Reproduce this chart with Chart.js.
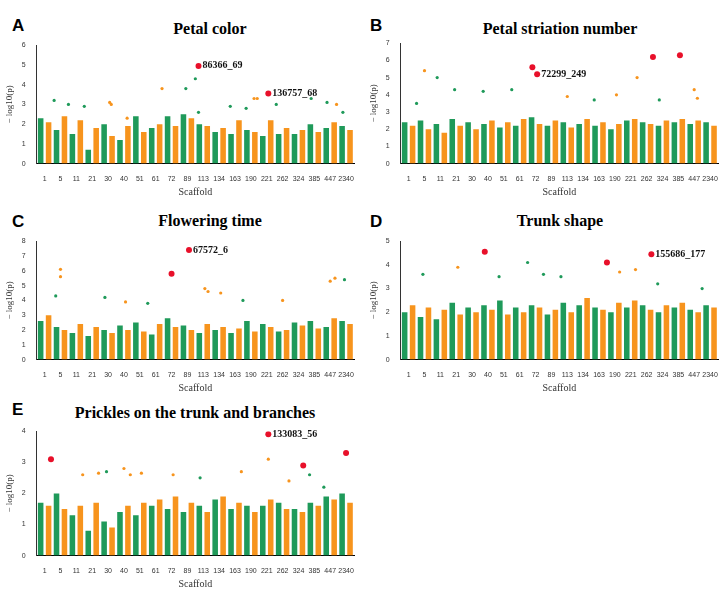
<!DOCTYPE html>
<html>
<head>
<meta charset="utf-8">
<script src="https://cdn.jsdelivr.net/npm/chart.js@4"></script>
<style>
  body { margin: 0; background: #fff; width: 724px; height: 592px; position: relative; overflow: hidden; }
  .panel { position: absolute; width: 362px; }
  .letter { position: absolute; font: bold 17px "Liberation Sans", Arial, sans-serif; }
  .title { position: absolute; font: bold 16px "Liberation Serif", "Times New Roman", serif; text-align: center; }
</style>
</head>
<body>
<div class="letter" style="left:12px;top:16px">A</div>
<div class="letter" style="left:370px;top:16px">B</div>
<div class="letter" style="left:12px;top:212px">C</div>
<div class="letter" style="left:370px;top:212px">D</div>
<div class="letter" style="left:12px;top:400px">E</div>
<div class="title" style="left:60px;top:20px;width:300px">Petal color</div>
<div class="title" style="left:400px;top:20px;width:320px">Petal striation number</div>
<div class="title" style="left:60px;top:212px;width:300px">Flowering time</div>
<div class="title" style="left:400px;top:212px;width:320px">Trunk shape</div>
<div class="title" style="left:20px;top:404px;width:350px">Prickles on the trunk and branches</div>
<div class="panel" style="left:0;top:38px;height:160px"><canvas id="cA"></canvas></div>
<div class="panel" style="left:364px;top:36px;height:162px"><canvas id="cB"></canvas></div>
<div class="panel" style="left:0;top:234px;height:160px"><canvas id="cC"></canvas></div>
<div class="panel" style="left:364px;top:234px;height:160px"><canvas id="cD"></canvas></div>
<div class="panel" style="left:0;top:424px;height:166px"><canvas id="cE"></canvas></div>
<script>
const scaffoldLabels = ['1','5','11','21','30','40','51','61','72','89','113','134','163','190','221','262','324','385','447','2340'];

// column heights (dense point bands), 40 per panel
const colsA = [2.3,2.1,1.7,2.4,1.5,2.2,0.7,1.8,2.0,1.4,1.2,1.9,2.4,1.6,1.8,2.0,2.4,1.9,2.5,2.3,2.0,1.9,1.6,1.8,1.5,2.2,1.7,1.6,1.4,2.2,1.5,1.8,1.5,1.7,2.0,1.6,1.8,2.1,1.9,1.7];
const colsB = [2.4,2.2,2.5,2.0,2.3,1.8,2.6,2.2,2.4,2.0,2.3,2.5,2.1,2.4,2.2,2.6,2.7,2.3,2.2,2.5,2.4,2.1,2.3,2.6,2.2,2.4,2.0,2.3,2.5,2.6,2.4,2.3,2.2,2.5,2.4,2.6,2.3,2.5,2.4,2.2];
const colsC = [2.6,3.0,2.2,2.0,1.8,2.4,1.6,2.2,2.0,1.8,2.3,2.0,2.5,1.9,1.7,2.4,2.8,2.2,2.3,2.0,1.8,2.4,2.0,2.2,1.8,2.1,2.6,1.9,2.4,2.2,1.9,2.0,2.5,2.3,2.6,2.1,2.2,2.8,2.6,2.4];
const colsD = [2.0,2.3,1.8,2.2,1.7,2.1,2.4,1.9,2.2,2.0,2.3,2.1,2.5,1.9,2.2,2.0,2.3,2.2,1.9,2.1,2.4,2.0,2.3,2.6,2.2,2.1,2.0,2.4,2.2,2.5,2.3,2.1,2.0,2.3,2.2,2.4,2.1,2.0,2.3,2.2];
const colsE = [1.7,1.6,2.0,1.5,1.3,1.6,0.8,1.7,1.1,0.9,1.4,1.6,1.3,1.7,1.6,1.8,1.5,1.9,1.4,1.7,1.6,1.4,1.8,1.9,1.5,1.7,1.6,1.4,1.6,1.8,1.7,1.5,1.5,1.4,1.7,1.6,1.9,1.8,2.0,1.7];

// isolated high points [x, y]
const topsA = [[1.1,3.2],[2.0,3.0],[3.0,2.9],[4.6,3.1],[4.7,3.0],[5.7,2.3],[7.9,3.8],[9.4,3.8],[10.0,4.3],[10.2,2.6],[12.2,2.9],[13.2,2.8],[15.1,3.0],[13.7,3.3],[13.9,3.3],[17.3,3.3],[18.3,3.1],[18.9,3.0],[19.3,2.6]];
const topsB = [[1.5,5.4],[2.3,5.0],[1.0,3.5],[3.4,4.3],[5.2,4.2],[7.0,4.3],[10.5,3.9],[13.6,4.0],[14.9,5.0],[18.5,4.3],[18.7,3.8],[16.3,3.7],[12.2,3.7]];
const topsC = [[1.5,6.1],[1.5,5.6],[1.2,4.3],[4.3,4.2],[5.6,3.9],[7.0,3.8],[10.6,4.8],[10.8,4.6],[11.6,4.5],[13.0,4.0],[18.5,5.3],[18.8,5.5],[19.4,5.4],[15.5,4.0]];
const topsD = [[1.4,3.6],[3.6,3.9],[6.2,3.5],[8.0,4.1],[9.0,3.6],[10.1,3.5],[13.8,3.7],[14.8,3.8],[16.2,3.2],[19.0,3.0]];
const topsE = [[2.9,2.6],[3.9,2.65],[4.4,2.7],[5.5,2.8],[5.9,2.6],[6.6,2.65],[8.6,2.6],[10.3,2.5],[12.9,2.7],[14.6,3.1],[15.9,2.4],[17.2,2.6],[18.1,2.2]];

// highlighted SNPs [x, y, label]
const hitsA = [[10.2,4.95,'86366_69'],[14.6,3.55,'136757_68']];
const hitsB = [[8.3,5.6,''],[8.6,5.2,'72299_249'],[15.9,6.2,''],[17.6,6.3,'']];
const hitsC = [[8.5,5.8,''],[9.6,7.4,'67572_6']];
const hitsD = [[5.3,4.55,''],[13.0,4.1,''],[15.8,4.45,'155686_177']];
const hitsE = [[0.9,3.1,''],[14.6,3.9,'133083_56'],[16.8,2.9,''],[19.5,3.3,'']];

const ORANGE = '#f7941d', GREEN = '#1f9a5a';
const colorAt = x => Math.floor(x * 2) % 2 === 0 ? GREEN : ORANGE;

const hitLabels = {
  id: 'hitLabels',
  afterDatasetsDraw(chart) {
    const ctx = chart.ctx;
    const meta = chart.getDatasetMeta(2);
    ctx.save();
    ctx.font = 'bold 10px "Liberation Serif", serif';
    ctx.fillStyle = '#111';
    ctx.textBaseline = 'middle';
    meta.data.forEach((pt, i) => {
      const lab = chart.data.datasets[2].data[i].label;
      if (lab) ctx.fillText(lab, pt.x + 4, pt.y);
    });
    ctx.restore();
  }
};

function makeChart(id, cols, tops, hits, yMax) {
  new Chart(document.getElementById(id), {
    type: 'bar',
    data: {
      datasets: [
        {
          type: 'bar',
          data: cols.map((v, i) => ({ x: i * 0.5 + 0.25, y: v })),
          backgroundColor: cols.map((v, i) => i % 2 === 0 ? GREEN : ORANGE),
          barPercentage: 0.7, categoryPercentage: 1, order: 3
        },
        {
          type: 'scatter',
          data: tops.map(p => ({ x: p[0], y: p[1] })),
          backgroundColor: tops.map(p => colorAt(p[0])),
          pointRadius: 1.6, borderWidth: 0, order: 2
        },
        {
          type: 'scatter',
          data: hits.map(p => ({ x: p[0], y: p[1], label: p[2] })),
          backgroundColor: '#e8102a',
          pointRadius: 3, borderWidth: 0, order: 1
        }
      ]
    },
    options: {
      responsive: true, maintainAspectRatio: false, animation: false,
      layout: { padding: { right: 8, top: 4 } },
      plugins: { legend: { display: false }, tooltip: { enabled: false } },
      scales: {
        x: {
          type: 'linear', min: 0, max: 20, offset: false,
          afterBuildTicks: s => { s.ticks = scaffoldLabels.map((l, i) => ({ value: i + 0.5 })); },
          ticks: { autoSkip: false, maxRotation: 0, font: { size: 7 }, color: '#333',
                   callback: v => scaffoldLabels[Math.round(v - 0.5)] },
          grid: { display: false },
          border: { color: '#000' },
          title: { display: true, text: 'Scaffold', font: { family: 'Liberation Serif', size: 10 }, color: '#333', padding: 0 }
        },
        y: {
          min: 0, max: yMax,
          ticks: { stepSize: 1, font: { size: 7 }, color: '#333' },
          grid: { display: false },
          border: { color: '#333' },
          title: { display: true, text: '− log10(p)', font: { family: 'Liberation Serif', size: 9 }, color: '#333' }
        }
      }
    },
    plugins: [hitLabels]
  });
}

makeChart('cA', colsA, topsA, hitsA, 6);
makeChart('cB', colsB, topsB, hitsB, 7);
makeChart('cC', colsC, topsC, hitsC, 8);
makeChart('cD', colsD, topsD, hitsD, 5);
makeChart('cE', colsE, topsE, hitsE, 4);
</script>
</body>
</html>
